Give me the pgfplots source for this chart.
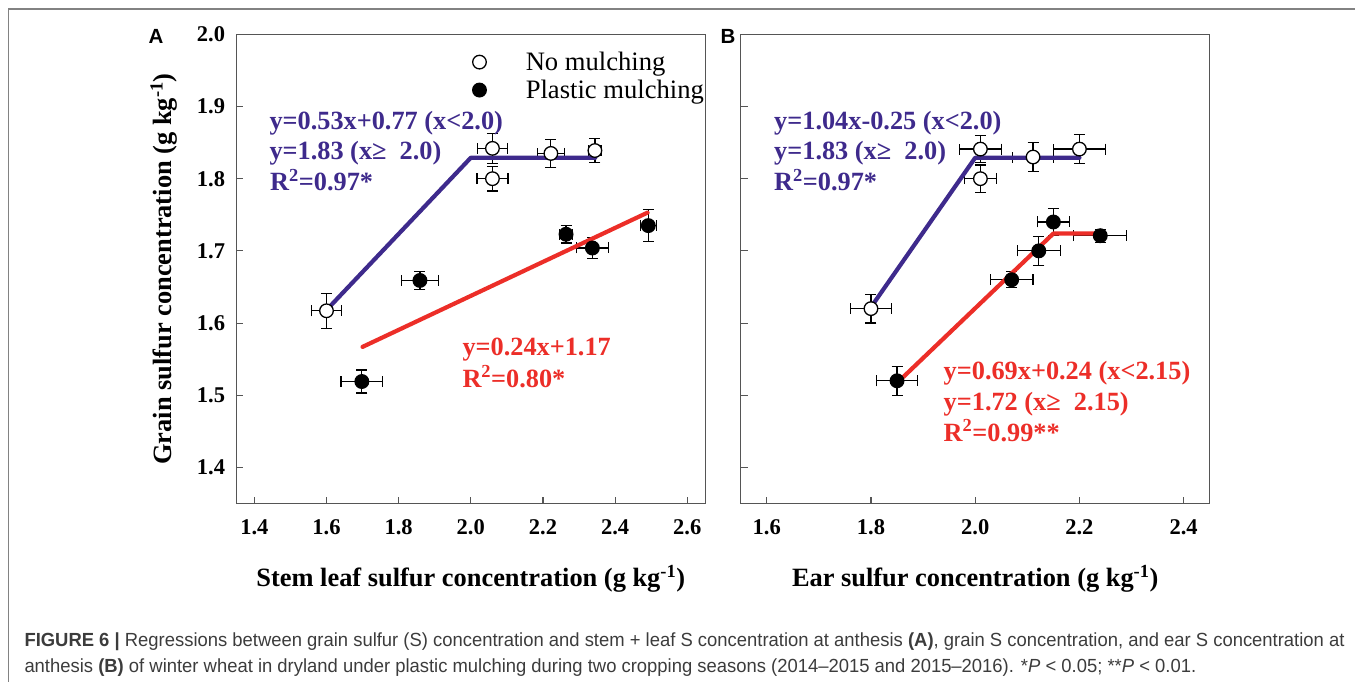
\documentclass[border=0pt]{standalone}
\usepackage{fontspec}
\setmainfont{Liberation Serif}
\newfontfamily\sansf{Liberation Sans}
\newfontfamily\capf[FakeStretch=0.97]{Liberation Sans}
\usepackage{pgfplots}
\pgfplotsset{compat=1.18}

\definecolor{nmblue}{RGB}{62,42,140}
\definecolor{pmred}{RGB}{236,46,40}
\definecolor{axgray}{RGB}{85,85,85}
\definecolor{framegray}{RGB}{130,130,130}
\definecolor{captxt}{RGB}{60,60,60}

\pgfplotsset{
  panel/.style={
    scale only axis, width=469pt, height=469.2pt,
    ymin=1.35, ymax=2.0,
    ytick={1.4,1.5,1.6,1.7,1.8,1.9,2.0},
    axis line style={axgray, line width=1.4pt},
    tick style={axgray, line width=1.1pt},
    major tick length=7pt, tick align=inside,
    xtick pos=bottom, ytick pos=left,
    tick label style={font=\fontsize{22.5}{22.5}\selectfont\bfseries,
      /pgf/number format/assume math mode=true,
      /pgf/number format/fixed, /pgf/number format/fixed zerofill,
      /pgf/number format/precision=1},
    xticklabel style={anchor=north, inner sep=0pt, yshift=-16pt},
    yticklabel style={anchor=east, inner sep=0pt, xshift=-11pt},
    label style={font=\fontsize{26.4}{26.4}\selectfont\bfseries},
    xlabel style={at={(axis description cs:0.5,-0.161)}, anchor=center},
  },
  errpts/.style={only marks, mark=*, mark size=6.8pt,
    error bars/x dir=both, error bars/x explicit,
    error bars/y dir=both, error bars/y explicit,
    error bars/error bar style={black, line width=1.2pt},
    error bars/error mark options={rotate=90, black, line width=1.2pt, mark size=5.5pt}},
  openpts/.style={errpts, mark options={fill=white, draw=black, line width=1.3pt}},
  fillpts/.style={errpts, mark options={fill=black, draw=black, line width=1.3pt}},
  fitline/.style={line width=4.2pt, line cap=round, line join=round, no marks},
}

\begin{document}
\begin{tikzpicture}
\useasboundingbox (0,0) rectangle (1355pt,-681pt);
\draw[framegray, line width=1.6pt] (8.3pt,-690pt) -- (8.3pt,-9.2pt) -- (1360pt,-9.2pt);

% ---- panel A
\begin{axis}[panel, at={(236.3pt,-503.5pt)}, anchor=south west,
  xmin=1.35, xmax=2.65,
  xtick={1.4,1.6,1.8,2.0,2.2,2.4,2.6},
  xlabel={Stem leaf sulfur concentration (g kg\textsuperscript{-1})},
  ylabel={Grain sulfur concentration (g kg\textsuperscript{-1})},
  ylabel style={at={(axis description cs:-0.154,0.5)}, anchor=center},
  legend style={at={(axis description cs:0.5036,0.911)}, anchor=west,
    draw=none, fill=none, inner sep=0pt, column sep=39.5pt, row sep=8pt,
    font=\fontsize{26.6}{26.6}\selectfont, nodes={inner sep=0pt}},
  legend cell align=left,
  legend image code/.code={\draw[#1] plot coordinates {(0pt,0pt)};},
]
\addlegendimage{only marks, mark=*, mark size=6.8pt, mark options={fill=white, draw=black, line width=1.3pt}}
\addlegendentry{No mulching}
\addlegendimage{only marks, mark=*, mark size=6.8pt, mark options={fill=black, draw=black, line width=1.3pt}}
\addlegendentry{Plastic mulching}

\addplot[forget plot, openpts] table[x=x, y=y, x error=ex, y error=ey] {
x     y     ex    ey
1.600 1.617 0.042 0.024
2.060 1.842 0.042 0.021
2.060 1.800 0.043 0.017
2.222 1.835 0.038 0.019
2.344 1.839 0.017 0.017
};
\addplot[forget plot, fillpts] table[x=x, y=y, x error=ex, y error=ey] {
x     y     ex    ey
1.698 1.519 0.058 0.016
1.859 1.659 0.052 0.012
2.264 1.723 0.018 0.012
2.337 1.704 0.045 0.015
2.492 1.735 0.022 0.022
};
\addplot[forget plot, fitline, nmblue] coordinates {(1.600,1.618) (2.000,1.829) (2.345,1.829)};
\addplot[forget plot, fitline, pmred] coordinates {(1.700,1.567) (2.490,1.753)};
\end{axis}

% ---- panel B
\begin{axis}[panel, at={(740.7pt,-503.5pt)}, anchor=south west,
  xmin=1.55, xmax=2.45,
  xtick={1.6,1.8,2.0,2.2,2.4},
  yticklabels={},
  xlabel={Ear sulfur concentration (g kg\textsuperscript{-1})},
]
\addplot[openpts] table[x=x, y=y, x error=ex, y error=ey] {
x     y     ex    ey
1.800 1.620 0.040 0.020
2.010 1.841 0.040 0.019
2.010 1.800 0.031 0.019
2.111 1.830 0.040 0.020
2.200 1.841 0.050 0.020
};
\addplot[fillpts] table[x=x, y=y, x error=ex, y error=ey] {
x     y     ex    ey
1.850 1.520 0.040 0.020
2.070 1.660 0.041 0.011
2.122 1.700 0.041 0.020
2.150 1.740 0.031 0.019
2.240 1.721 0.051 0.009
};
\addplot[fitline, nmblue] coordinates {(1.800,1.622) (2.000,1.829) (2.200,1.829)};
\addplot[fitline, pmred] coordinates {(1.850,1.517) (2.150,1.724) (2.240,1.724)};
\end{axis}

% ---- panel letters
\node[anchor=base west, inner sep=0pt, font=\sansf\bfseries\fontsize{20.5}{20.5}\selectfont] at (148.5pt,-43.3pt) {A};
\node[anchor=base west, inner sep=0pt, font=\sansf\bfseries\fontsize{20.5}{20.5}\selectfont] at (720.5pt,-43.3pt) {B};

% ---- regression annotations
\begin{scope}[every node/.style={anchor=base west, inner sep=0pt, font=\fontsize{26.3}{26.3}\selectfont\bfseries}]
\node[text=nmblue] at (269.3pt,-129.3pt) {y=0.53x+0.77 (x<2.0)};
\node[text=nmblue] at (269.3pt,-159.3pt) {y=1.83 (x≥\ \ 2.0)};
\node[text=nmblue] at (270pt,-190.5pt) {R\textsuperscript{2}=0.97*};
\node[text=pmred] at (462.3pt,-355.5pt) {y=0.24x+1.17};
\node[text=pmred] at (462.3pt,-387pt) {R\textsuperscript{2}=0.80*};
\node[text=nmblue] at (774pt,-129.3pt) {y=1.04x-0.25 (x<2.0)};
\node[text=nmblue] at (774pt,-159.3pt) {y=1.83 (x≥\ \ 2.0)};
\node[text=nmblue] at (774pt,-190.5pt) {R\textsuperscript{2}=0.97*};
\node[text=pmred] at (943.5pt,-379.5pt) {y=0.69x+0.24 (x<2.15)};
\node[text=pmred] at (943.5pt,-410pt) {y=1.72 (x≥\ \ 2.15)};
\node[text=pmred] at (943.5pt,-441pt) {R\textsuperscript{2}=0.99**};
\end{scope}

% ---- caption
\begin{scope}[every node/.style={anchor=base west, inner sep=0pt, text=captxt, font=\capf\fontsize{19}{19}\selectfont}]
\node at (24.3pt,-646pt) {\textbf{FIGURE 6 |} Regressions between grain sulfur (S) concentration and stem + leaf S concentration at anthesis \textbf{(A)}, grain S concentration, and ear S concentration at};
\node at (24.3pt,-672pt) {anthesis \textbf{(B)} of winter wheat in dryland under plastic mulching during two cropping seasons (2014–2015 and 2015–2016). *\textit{P} < 0.05; **\textit{P} < 0.01.};
\end{scope}
\end{tikzpicture}
\end{document}
